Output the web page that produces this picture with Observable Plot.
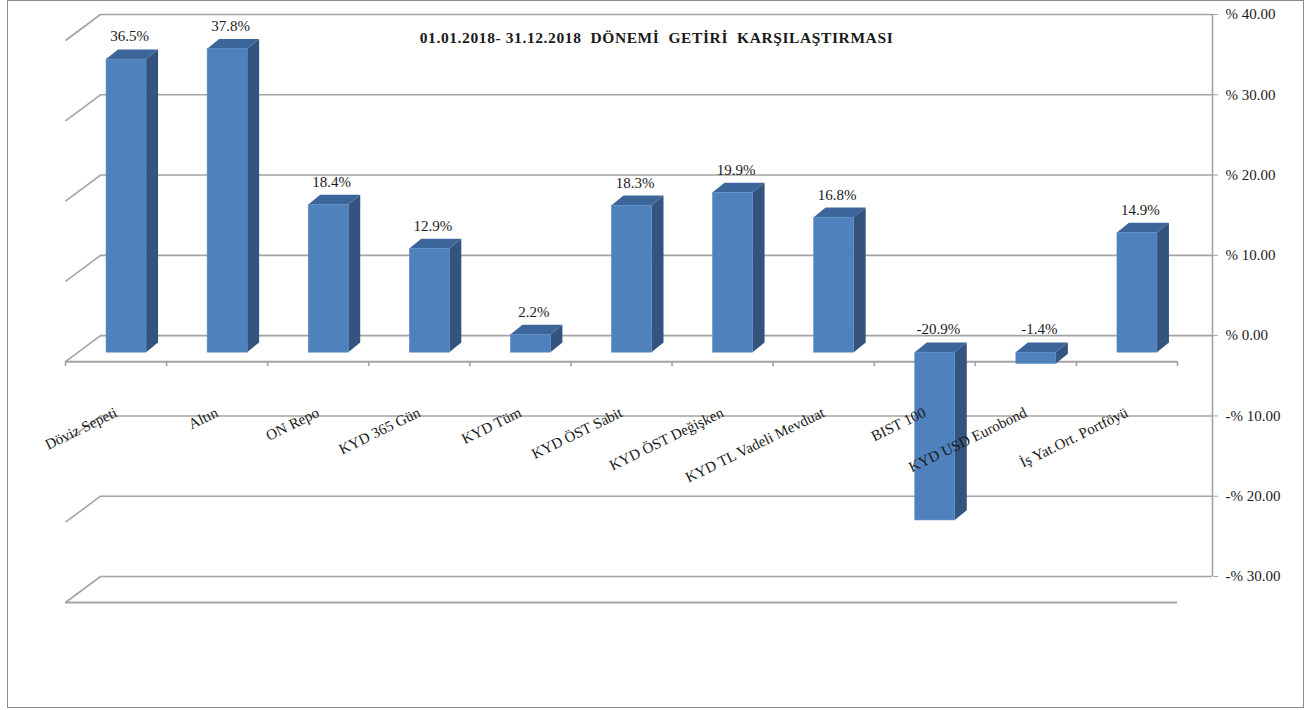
<!DOCTYPE html>
<html><head><meta charset="utf-8">
<script src="https://cdn.jsdelivr.net/npm/d3@7"></script>
<script src="https://cdn.jsdelivr.net/npm/@observablehq/plot@0.6"></script>
<style>
body{margin:0;background:#fff;}
#wrap{position:relative;width:1313px;height:710px;overflow:hidden;}
#wrap svg{display:block;}
#border{position:absolute;left:7px;top:0;width:1295px;height:706px;border:1px solid #8c8c8c;pointer-events:none;}
</style></head><body>
<div id="wrap"><div id="border"></div></div>
<script>
// ---- data ----
const categories = ["Döviz Sepeti","Altın","ON Repo","KYD 365 Gün","KYD Tüm","KYD ÖST Sabit","KYD ÖST Değişken","KYD TL Vadeli Mevduat","BIST 100","KYD USD Eurobond","İş Yat.Ort. Portföyü"];
const values = [36.5, 37.8, 18.4, 12.9, 2.2, 18.3, 19.9, 16.8, -20.9, -1.4, 14.9];
const yTicks = [-30, -20, -10, 0, 10, 20, 30, 40];
const chartTitle = "01.01.2018- 31.12.2018  DÖNEMİ  GETİRİ  KARŞILAŞTIRMASI";

// ---- layout ----
const W = 1313, H = 710, mL = 100, mR = 101, mT = 14, mB = 134;
const n = categories.length;
const yMin = yTicks[0], yMax = yTicks[yTicks.length - 1];
const kx = (W - mL - mR) / n;
const ky = (H - mT - mB) / (yMax - yMin);
const ux = px => px / kx;
const uy = px => -px / ky;
const wallDX = -35, wallDY = 26;
const barDX = -24.5, barDY = 17;
const barW = 40, depthX = 12, depthY = -9.7;
const inset = (kx - barW) / 2;
const gridColor = "#a3a3a3";
const frontColor = "#4f81bd", sideColor = "#33547f", topColor = "#3c669a";
const textColor = "#1a1a1a";
const serif = "'Liberation Serif', 'Times New Roman', serif";

const bars = categories.map((c, i) => ({c, i, v: values[i]}));
const xl = d => d.i + ux(inset), xr = d => d.i + 1 - ux(inset);
const sideFaces = bars.flatMap(d => [
  {i: d.i, x: xr(d), y1: 0, y2: d.v},
  {i: d.i, x: xr(d) + ux(depthX), y1: uy(depthY), y2: d.v + uy(depthY)}
]);
const topFaces = bars.flatMap(d => {
  const t = Math.max(d.v, 0);
  return [
    {i: d.i, y: t, x1: xl(d), x2: xr(d)},
    {i: d.i, y: t + uy(depthY), x1: xl(d) + ux(depthX), x2: xr(d) + ux(depthX)}
  ];
});
const fmtAxis = v => (v < 0 ? "-% " : "% ") + Math.abs(v).toFixed(2);
const fmtVal = v => v.toFixed(1) + "%";

const chart = Plot.plot({
  width: W, height: H,
  marginLeft: mL, marginRight: mR, marginTop: mT, marginBottom: mB,
  style: {fontFamily: serif, fontSize: "15px", color: textColor, background: "transparent"},
  x: {type: "linear", domain: [0, n], axis: null},
  y: {type: "linear", domain: [yMin, yMax]},
  marks: [
    Plot.ruleY(yTicks, {stroke: gridColor, strokeWidth: 1.6}),
    Plot.link(yTicks, {x1: 0, y1: d => d, x2: ux(wallDX), y2: d => d + uy(wallDY), stroke: gridColor, strokeWidth: 1.6}),
    Plot.ruleY([yMin, 0], {x1: 0, x2: n, dx: wallDX, dy: wallDY, stroke: gridColor, strokeWidth: 2}),
    Plot.ruleX(d3.range(n + 1), {x: d => d, y1: 0, y2: uy(5), dx: wallDX, dy: wallDY, stroke: gridColor, strokeWidth: 1.6}),
    Plot.ruleX([n], {y1: yMin, y2: yMax, stroke: gridColor, strokeWidth: 1.6}),
    Plot.axisY({ticks: yTicks, anchor: "right", tickSize: 5, tickPadding: 8, tickFormat: fmtAxis, stroke: gridColor, fill: textColor, fontSize: 15, fontFamily: serif}),
    Plot.areaY(sideFaces, {x: "x", y1: "y1", y2: "y2", z: "i", fill: sideColor, dx: barDX, dy: barDY}),
    Plot.areaX(topFaces, {y: "y", x1: "x1", x2: "x2", z: "i", fill: topColor, dx: barDX, dy: barDY}),
    Plot.rectY(bars, {x1: d => d.i, x2: d => d.i + 1, y1: 0, y2: "v", insetLeft: inset, insetRight: inset, fill: frontColor, stroke: "#5b8bc4", strokeWidth: 0.6, dx: barDX, dy: barDY}),
    Plot.text(bars, {x: d => d.i + 0.5, y: d => Math.max(d.v, 0), text: d => fmtVal(d.v), dx: barDX + 3, dy: barDY - 23, fill: textColor, fontSize: 15, fontFamily: serif}),
    Plot.text(bars, {x: d => d.i + 0.5, y: 0, text: "c", rotate: -26, textAnchor: "end", dx: wallDX, dy: 76, fill: textColor, fontSize: 15, fontFamily: serif}),
    Plot.text([chartTitle], {frameAnchor: "top", text: d => d, dy: 17, fontWeight: "bold", fontSize: 15.5, fill: textColor, fontFamily: serif})
  ]
});
d3.select(chart).selectAll("text").filter(function() { return this.textContent === chartTitle; })
  .attr("letter-spacing", "0.6px").style("white-space", "pre");
document.getElementById("wrap").insertBefore(chart, document.getElementById("border"));
</script>
</body></html>
